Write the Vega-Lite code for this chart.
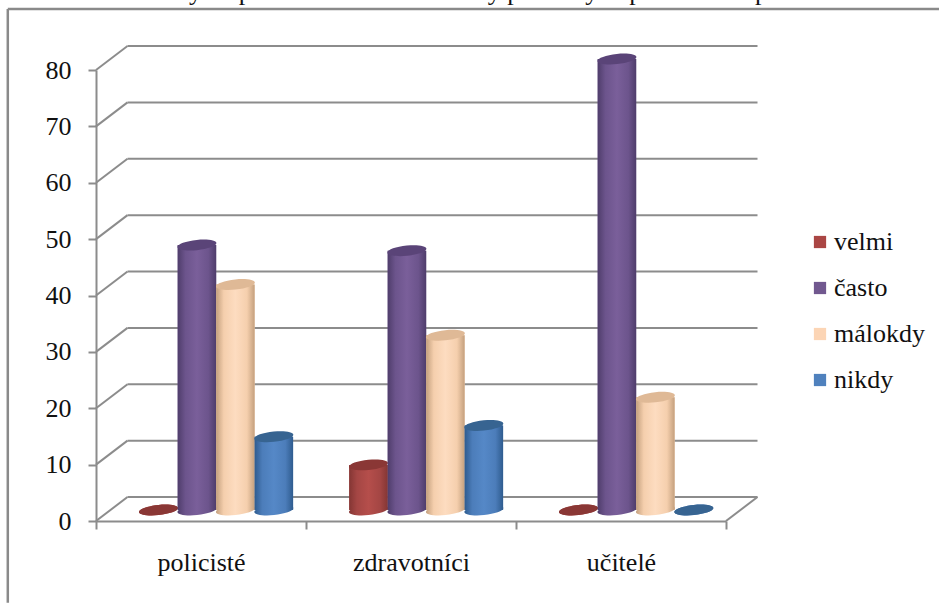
{
  "$schema": "https://vega.github.io/schema/vega-lite/v6.json",
  "width": 630,
  "height": 451,
  "padding": {"left": 96, "top": 70, "right": 213, "bottom": 82},
  "autosize": "none",
  "background": "white",
  "config": {"view": {"stroke": null}},
  "title": {
    "text": "Graf č. 4: Názory respondentů na různé formy pocitových parestézií v práci s nimi",
    "anchor": "start",
    "frame": "group",
    "orient": "top",
    "font": "Liberation Serif",
    "fontSize": 26,
    "fontWeight": "normal",
    "color": "#111111",
    "dx": -76,
    "offset": 3
  },
  "datasets": {
    "odpovedi": [
      {"skupina": "policisté", "cetnost": "velmi", "hodnota": 0},
      {"skupina": "policisté", "cetnost": "často", "hodnota": 47},
      {"skupina": "policisté", "cetnost": "málokdy", "hodnota": 40},
      {"skupina": "policisté", "cetnost": "nikdy", "hodnota": 13},
      {"skupina": "zdravotníci", "cetnost": "velmi", "hodnota": 8},
      {"skupina": "zdravotníci", "cetnost": "často", "hodnota": 46},
      {"skupina": "zdravotníci", "cetnost": "málokdy", "hodnota": 31},
      {"skupina": "zdravotníci", "cetnost": "nikdy", "hodnota": 15},
      {"skupina": "učitelé", "cetnost": "velmi", "hodnota": 0},
      {"skupina": "učitelé", "cetnost": "často", "hodnota": 80},
      {"skupina": "učitelé", "cetnost": "málokdy", "hodnota": 20},
      {"skupina": "učitelé", "cetnost": "nikdy", "hodnota": 0}
    ],
    "mrizka": [
      {"hodnota": 0}, {"hodnota": 10}, {"hodnota": 20}, {"hodnota": 30}, {"hodnota": 40},
      {"hodnota": 50}, {"hodnota": 60}, {"hodnota": 70}, {"hodnota": 80}
    ]
  },
  "resolve": {"scale": {"x": "independent"}, "axis": {"x": "independent"}},
  "layer": [
    {
      "layer": [
        {
          "data": {"values": [{"od": -14.5, "do": 90.8}]},
          "mark": {"type": "rule", "color": "#8a8a8a", "strokeWidth": 2.5},
          "encoding": {
            "x": {"datum": -0.42, "type": "quantitative", "scale": {"domain": [0, 3], "nice": false, "zero": false}, "axis": null},
            "y": {"field": "od", "type": "quantitative"},
            "y2": {"field": "do"}
          }
        },
        {
          "data": {"values": [{"do": 90.8}]},
          "mark": {"type": "rule", "color": "#8a8a8a", "strokeWidth": 2.5},
          "encoding": {
            "x": {"datum": -0.42, "type": "quantitative"},
            "x2": {"datum": 4.02},
            "y": {"field": "do", "type": "quantitative"}
          }
        },
        {
          "data": {"name": "mrizka"},
          "mark": {"type": "rule", "color": "#8c8c8c", "strokeWidth": 2, "yOffset": -24},
          "encoding": {
            "x": {"datum": 0.15, "type": "quantitative"},
            "x2": {"datum": 3.15},
            "y": {
              "field": "hodnota",
              "type": "quantitative",
              "scale": {"domain": [0, 80], "nice": false},
              "axis": {
                "values": [0, 10, 20, 30, 40, 50, 60, 70, 80],
                "grid": false,
                "title": null,
                "domainColor": "#8c8c8c",
                "domainWidth": 2,
                "tickColor": "#8c8c8c",
                "tickWidth": 2,
                "tickSize": 8,
                "labelFont": "Liberation Serif",
                "labelFontSize": 26,
                "labelColor": "#111111",
                "labelPadding": 17
              }
            }
          }
        },
        {
          "data": {"name": "mrizka"},
          "mark": {"type": "rule", "color": "#8c8c8c", "strokeWidth": 2, "y2Offset": -24},
          "encoding": {
            "x": {"datum": 0, "type": "quantitative"},
            "x2": {"datum": 0.15},
            "y": {"field": "hodnota", "type": "quantitative"},
            "y2": {"field": "hodnota"}
          }
        },
        {
          "data": {"values": [{"hodnota": 0}]},
          "mark": {"type": "rule", "color": "#8c8c8c", "strokeWidth": 2, "y2Offset": -24},
          "encoding": {
            "x": {"datum": 3, "type": "quantitative"},
            "x2": {"datum": 3.15},
            "y": {"field": "hodnota", "type": "quantitative"},
            "y2": {"field": "hodnota"}
          }
        }
      ]
    },
    {
      "data": {"name": "odpovedi"},
      "encoding": {
        "x": {
          "field": "skupina",
          "type": "nominal",
          "sort": ["policisté", "zdravotníci", "učitelé"],
          "scale": {"type": "band", "paddingInner": 0, "paddingOuter": 0},
          "axis": {
            "orient": "bottom",
            "title": null,
            "labelAngle": 0,
            "tickBand": "extent",
            "domainColor": "#8c8c8c",
            "domainWidth": 2,
            "tickColor": "#8c8c8c",
            "tickWidth": 2,
            "tickSize": 8,
            "labelFont": "Liberation Serif",
            "labelFontSize": 26,
            "labelColor": "#111111",
            "labelPadding": 20
          }
        },
        "xOffset": {
          "field": "cetnost",
          "type": "nominal",
          "sort": ["velmi", "často", "málokdy", "nikdy"],
          "scale": {"type": "band", "domain": ["velmi", "často", "málokdy", "nikdy"], "paddingInner": 0, "paddingOuter": 0.73, "align": 0.77}
        },
        "y": {"field": "hodnota", "type": "quantitative"}
      },
      "layer": [
        {
          "mark": {"type": "bar", "yOffset": -11, "y2Offset": -11},
          "encoding": {
            "color": {
              "field": "cetnost",
              "type": "nominal",
              "scale": {
                "domain": ["velmi", "často", "málokdy", "nikdy"],
                "range": ["#aa4644", "#71588f", "#fcd5b5", "#4f81bd"]
              },
              "legend": {
                "title": null,
                "orient": "none",
                "legendX": 711,
                "legendY": 159,
                "symbolType": "square",
                "symbolSize": 150,
                "symbolStrokeWidth": 0,
                "labelFont": "Liberation Serif",
                "labelFontSize": 26,
                "labelColor": "#111111",
                "labelOffset": 1,
                "rowPadding": 20
              }
            }
          }
        },
        {
          "transform": [{"filter": "datum.cetnost === 'velmi'"}],
          "layer": [
            {
              "mark": {"type": "point", "filled": true, "opacity": 1, "yOffset": -11, "shape": "M-1,0.1 A1,0.26 -6 1 1 1,-0.1 A1,0.26 -6 1 1 -1,0.1 Z", "size": 1521, "color": {"gradient": "linear", "x1": 0, "x2": 1, "y1": 0, "y2": 0, "stops": [{"offset": 0, "color": "#843634"}, {"offset": 0.2, "color": "#a44644"}, {"offset": 0.5, "color": "#b54e4b"}, {"offset": 0.8, "color": "#a44644"}, {"offset": 1, "color": "#843634"}]}},
              "encoding": {"y": {"datum": 0}}
            },
            {
              "mark": {"type": "bar", "yOffset": -11, "y2Offset": -11, "color": {"gradient": "linear", "x1": 0, "x2": 1, "y1": 0, "y2": 0, "stops": [{"offset": 0, "color": "#843634"}, {"offset": 0.2, "color": "#a44644"}, {"offset": 0.5, "color": "#b54e4b"}, {"offset": 0.8, "color": "#a44644"}, {"offset": 1, "color": "#843634"}]}}
            },
            {
              "mark": {"type": "point", "filled": true, "opacity": 1, "yOffset": -11, "shape": "M-1,0.1 A1,0.26 -6 1 1 1,-0.1 A1,0.26 -6 1 1 -1,0.1 Z", "size": 1521, "color": "#8a3735"}
            }
          ]
        },
        {
          "transform": [{"filter": "datum.cetnost === 'často'"}],
          "layer": [
            {
              "mark": {"type": "point", "filled": true, "opacity": 1, "yOffset": -11, "shape": "M-1,0.1 A1,0.26 -6 1 1 1,-0.1 A1,0.26 -6 1 1 -1,0.1 Z", "size": 1521, "color": {"gradient": "linear", "x1": 0, "x2": 1, "y1": 0, "y2": 0, "stops": [{"offset": 0, "color": "#4f3d6b"}, {"offset": 0.2, "color": "#6c548c"}, {"offset": 0.5, "color": "#7a5f9a"}, {"offset": 0.8, "color": "#6c548c"}, {"offset": 1, "color": "#4f3d6b"}]}},
              "encoding": {"y": {"datum": 0}}
            },
            {
              "mark": {"type": "bar", "yOffset": -11, "y2Offset": -11, "color": {"gradient": "linear", "x1": 0, "x2": 1, "y1": 0, "y2": 0, "stops": [{"offset": 0, "color": "#4f3d6b"}, {"offset": 0.2, "color": "#6c548c"}, {"offset": 0.5, "color": "#7a5f9a"}, {"offset": 0.8, "color": "#6c548c"}, {"offset": 1, "color": "#4f3d6b"}]}}
            },
            {
              "mark": {"type": "point", "filled": true, "opacity": 1, "yOffset": -11, "shape": "M-1,0.1 A1,0.26 -6 1 1 1,-0.1 A1,0.26 -6 1 1 -1,0.1 Z", "size": 1521, "color": "#5a4478"}
            }
          ]
        },
        {
          "transform": [{"filter": "datum.cetnost === 'málokdy'"}],
          "layer": [
            {
              "mark": {"type": "point", "filled": true, "opacity": 1, "yOffset": -11, "shape": "M-1,0.1 A1,0.26 -6 1 1 1,-0.1 A1,0.26 -6 1 1 -1,0.1 Z", "size": 1521, "color": {"gradient": "linear", "x1": 0, "x2": 1, "y1": 0, "y2": 0, "stops": [{"offset": 0, "color": "#c4a07e"}, {"offset": 0.2, "color": "#f5cfad"}, {"offset": 0.5, "color": "#fddcc0"}, {"offset": 0.8, "color": "#f5cfad"}, {"offset": 1, "color": "#c4a07e"}]}},
              "encoding": {"y": {"datum": 0}}
            },
            {
              "mark": {"type": "bar", "yOffset": -11, "y2Offset": -11, "color": {"gradient": "linear", "x1": 0, "x2": 1, "y1": 0, "y2": 0, "stops": [{"offset": 0, "color": "#c4a07e"}, {"offset": 0.2, "color": "#f5cfad"}, {"offset": 0.5, "color": "#fddcc0"}, {"offset": 0.8, "color": "#f5cfad"}, {"offset": 1, "color": "#c4a07e"}]}}
            },
            {
              "mark": {"type": "point", "filled": true, "opacity": 1, "yOffset": -11, "shape": "M-1,0.1 A1,0.26 -6 1 1 1,-0.1 A1,0.26 -6 1 1 -1,0.1 Z", "size": 1521, "color": "#dfb996"}
            }
          ]
        },
        {
          "transform": [{"filter": "datum.cetnost === 'nikdy'"}],
          "layer": [
            {
              "mark": {"type": "point", "filled": true, "opacity": 1, "yOffset": -11, "shape": "M-1,0.1 A1,0.26 -6 1 1 1,-0.1 A1,0.26 -6 1 1 -1,0.1 Z", "size": 1521, "color": {"gradient": "linear", "x1": 0, "x2": 1, "y1": 0, "y2": 0, "stops": [{"offset": 0, "color": "#2f5c8f"}, {"offset": 0.2, "color": "#4c7dba"}, {"offset": 0.5, "color": "#5588c7"}, {"offset": 0.8, "color": "#4c7dba"}, {"offset": 1, "color": "#2f5c8f"}]}},
              "encoding": {"y": {"datum": 0}}
            },
            {
              "mark": {"type": "bar", "yOffset": -11, "y2Offset": -11, "color": {"gradient": "linear", "x1": 0, "x2": 1, "y1": 0, "y2": 0, "stops": [{"offset": 0, "color": "#2f5c8f"}, {"offset": 0.2, "color": "#4c7dba"}, {"offset": 0.5, "color": "#5588c7"}, {"offset": 0.8, "color": "#4c7dba"}, {"offset": 1, "color": "#2f5c8f"}]}}
            },
            {
              "mark": {"type": "point", "filled": true, "opacity": 1, "yOffset": -11, "shape": "M-1,0.1 A1,0.26 -6 1 1 1,-0.1 A1,0.26 -6 1 1 -1,0.1 Z", "size": 1521, "color": "#376491"}
            }
          ]
        }
      ]
    }
  ]
}
